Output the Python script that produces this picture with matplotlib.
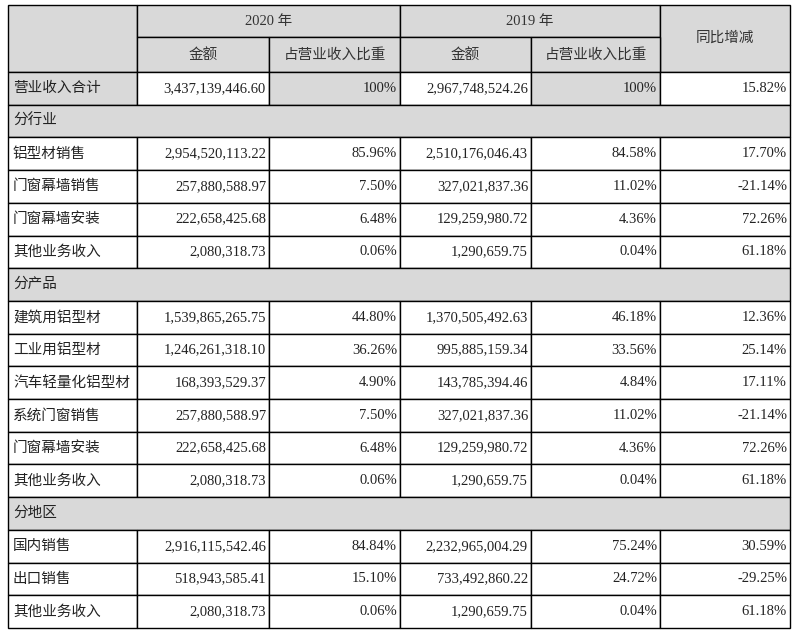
import matplotlib
matplotlib.use("Agg")
import matplotlib.pyplot as plt
from matplotlib.patches import Rectangle

plt.rcParams['font.family'] = ['Liberation Serif', 'Noto Sans CJK SC']

row_labels = ["营业收入合计", "分行业", "铝型材销售", "门窗幕墙销售", "门窗幕墙安装", "其他业务收入",
              "分产品", "建筑用铝型材", "工业用铝型材", "汽车轻量化铝型材", "系统门窗销售", "门窗幕墙安装",
              "其他业务收入", "分地区", "国内销售", "出口销售", "其他业务收入"]
amount_2020 = ["3,437,139,446.60", None, "2,954,520,113.22", "257,880,588.97", "222,658,425.68", "2,080,318.73",
               None, "1,539,865,265.75", "1,246,261,318.10", "168,393,529.37", "257,880,588.97", "222,658,425.68",
               "2,080,318.73", None, "2,916,115,542.46", "518,943,585.41", "2,080,318.73"]
share_2020 = ["100%", None, "85.96%", "7.50%", "6.48%", "0.06%", None, "44.80%", "36.26%", "4.90%", "7.50%",
              "6.48%", "0.06%", None, "84.84%", "15.10%", "0.06%"]
amount_2019 = ["2,967,748,524.26", None, "2,510,176,046.43", "327,021,837.36", "129,259,980.72", "1,290,659.75",
               None, "1,370,505,492.63", "995,885,159.34", "143,785,394.46", "327,021,837.36", "129,259,980.72",
               "1,290,659.75", None, "2,232,965,004.29", "733,492,860.22", "1,290,659.75"]
share_2019 = ["100%", None, "84.58%", "11.02%", "4.36%", "0.04%", None, "46.18%", "33.56%", "4.84%", "11.02%",
              "4.36%", "0.04%", None, "75.24%", "24.72%", "0.04%"]
yoy = ["15.82%", None, "17.70%", "-21.14%", "72.26%", "61.18%", None, "12.36%", "25.14%", "17.11%", "-21.14%",
       "72.26%", "61.18%", None, "30.59%", "-29.25%", "61.18%"]

GRAY = "#d9d9d9"
FS = 10.5
fig = plt.figure(figsize=(7.96, 6.36), dpi=100)
ax = fig.add_axes([0, 0, 1, 1])
ax.set_xlim(0, 796); ax.set_ylim(636, 0); ax.axis('off')

xs = [8, 137, 269, 400, 531, 660, 790]
y0, y1, y2 = 5, 37, 72
yend = 628
n = len(row_labels)
rh = (yend - y2) / n

def rect(x0, x1, ya, yb, fc):
    ax.add_patch(Rectangle((x0, ya), x1 - x0, yb - ya, facecolor=fc, edgecolor='black', lw=1.0))

# header
rect(xs[0], xs[1], y0, y2, GRAY)
rect(xs[1], xs[3], y0, y1, GRAY)
rect(xs[3], xs[5], y0, y1, GRAY)
rect(xs[5], xs[6], y0, y2, GRAY)
for i in range(1, 5):
    rect(xs[i], xs[i + 1], y1, y2, GRAY)
hc = '#333333'
ax.text((xs[1] + xs[3]) / 2, (y0 + y1) / 2, "2020 年", ha='center', va='center', fontsize=FS, color=hc)
ax.text((xs[3] + xs[5]) / 2, (y0 + y1) / 2, "2019 年", ha='center', va='center', fontsize=FS, color=hc)
ax.text((xs[5] + xs[6]) / 2, (y0 + y2) / 2, "同比增减", ha='center', va='center', fontsize=FS, color=hc)
for i, t in zip([1, 2, 3, 4], ["金额", "占营业收入比重", "金额", "占营业收入比重"]):
    ax.text((xs[i] + xs[i + 1]) / 2, (y1 + y2) / 2, t, ha='center', va='center', fontsize=FS, color=hc)

for r in range(n):
    ya = y2 + r * rh; yb = ya + rh; yc = (ya + yb) / 2
    if amount_2020[r] is None:
        rect(xs[0], xs[6], ya, yb, GRAY)
        ax.text(xs[0] + 5, yc, row_labels[r], ha='left', va='center', fontsize=FS, color='#222222')
        continue
    vals = [amount_2020[r], share_2020[r], amount_2019[r], share_2019[r], yoy[r]]
    total = (r == 0)
    rect(xs[0], xs[1], ya, yb, GRAY if total else 'white')
    ax.text(xs[0] + 5, yc, row_labels[r], ha='left', va='center', fontsize=FS, color='#222222')
    for c in range(5):
        fc = GRAY if (total and c in (1, 3)) else 'white'
        rect(xs[c + 1], xs[c + 2], ya, yb, fc)
        ax.text(xs[c + 2] - 3, yc, vals[c], ha='right', va='center', fontsize=FS, color='#222222')

fig.savefig("out.png", dpi=100)
